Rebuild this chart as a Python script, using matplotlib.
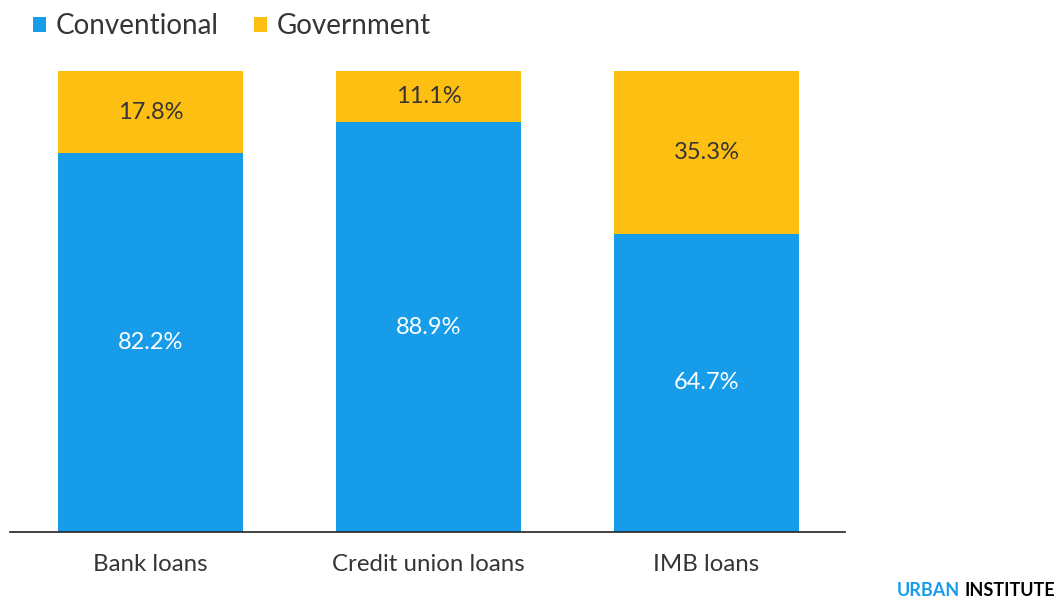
import numpy as np
import matplotlib.pyplot as plt

plt.rcParams['font.family'] = ['Lato', 'DejaVu Sans']

categories = ['Bank loans', 'Credit union loans', 'IMB loans']
conventional = [82.2, 88.9, 64.7]
government = [17.8, 11.1, 35.3]

blue = '#179cea'
yellow = '#fdbf11'
dark = '#353535'

W, H = 1059, 600
fig = plt.figure(figsize=(W / 100, H / 100), dpi=100)
ax = fig.add_axes([10 / W, (H - 532) / H, (845 - 10) / W, (532 - 71) / H])

x = np.arange(len(categories))
width = 0.665
b1 = ax.bar(x, conventional, width, color=blue, label='Conventional')
b2 = ax.bar(x, government, width, bottom=conventional, color=yellow, label='Government')

for i in range(len(categories)):
    ax.text(x[i], conventional[i] / 2, f'{conventional[i]:.1f}%', ha='center', va='center',
            color='white', fontsize=17)
    ax.text(x[i], conventional[i] + government[i] / 2, f'{government[i]:.1f}%', ha='center',
            va='center', color=dark, fontsize=17)

ax.set_xlim(-0.505, 2.498)
ax.set_ylim(0, 100)
ax.set_xticks(x)
ax.set_xticklabels(categories, fontsize=17.3, color=dark)
ax.tick_params(axis='x', length=0, pad=16)
ax.set_yticks([])
for side in ['top', 'right', 'left']:
    ax.spines[side].set_visible(False)
ax.spines['bottom'].set_color('#222222')
ax.spines['bottom'].set_linewidth(1.2)

fig.legend(handles=[b1, b2], loc='upper left', bbox_to_anchor=(8 / W, 1 + 12 / H),
           ncol=2, frameon=False, fontsize=20, handlelength=0.45, handleheight=0.45,
           handletextpad=0.35, columnspacing=1.3, labelcolor=dark)

# logo: blue "URBAN" placed just left of bold "INSTITUTE"
inst = fig.text(1055 / W, 1 - 591 / H, 'INSTITUTE', ha='right', va='center', fontsize=13,
                fontweight='bold', color='#000000')
fig.canvas.draw()
bb = inst.get_window_extent()
fig.text((bb.x0 - 4) / W, 1 - 591 / H, 'URBAN', ha='right', va='center', fontsize=13,
         fontweight='bold', color=blue)

fig.savefig('out.png', dpi=100)
